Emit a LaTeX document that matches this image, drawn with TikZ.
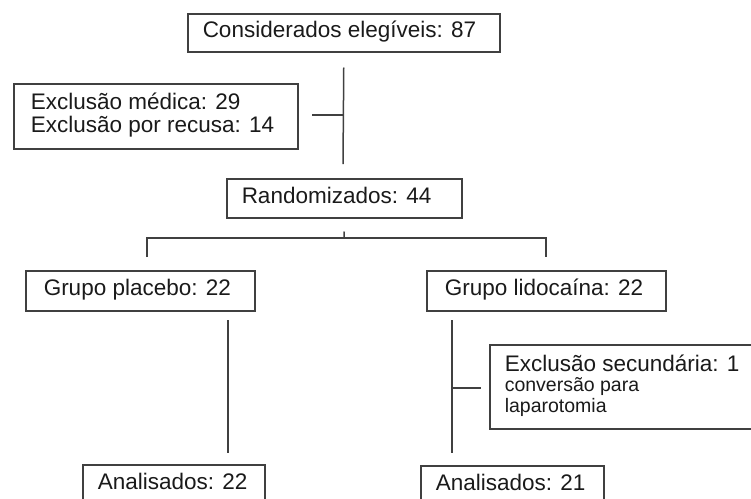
\documentclass[tikz,border=0pt]{standalone}
\usepackage{fontspec}
\setmainfont{Liberation Sans}
\usetikzlibrary{calc}
\definecolor{linec}{HTML}{404040}
\definecolor{textc}{HTML}{1A1A1A}
\newcommand{\bxt}[2]{\makebox[#1][l]{\begin{tabular}{@{}l@{}}#2\end{tabular}}}
\begin{document}
\begin{tikzpicture}[x=1pt,y=-1pt,
  box/.style={draw=linec, line width=1.5pt, anchor=north west, inner xsep=15pt, inner ysep=0pt,
    text=textc, font=\fontsize{22.5}{21.5}\selectfont},
  conn/.style={draw=linec, line width=1.5pt}]
\useasboundingbox (0,0) rectangle (751,498);
\clip (0,0) rectangle (751,498);
\node[box, minimum height=38pt] (top) at (187,13) {\bxt{282pt}{Considerados elegíveis: 87}};
\node[box, inner xsep=17pt, minimum height=65pt] (excl) at (13,83) {\bxt{250pt}{Exclusão médica: 29\\Exclusão por recusa: 14}};
\node[box, minimum height=39pt] (rand) at (226,178) {\bxt{205pt}{Randomizados: 44}};
\node[box, inner xsep=18pt, minimum height=40pt] (plac) at (25,270) {\bxt{193pt}{Grupo placebo: 22}};
\node[box, inner xsep=18pt, minimum height=40pt] (lido) at (426,270) {\bxt{203pt}{Grupo lidocaína: 22}};
\node[box, minimum height=84pt, font=\fontsize{22.5}{20.5}\selectfont] (excl2) at (489,344) {\bxt{250pt}{Exclusão secundária: 1\\{\fontsize{19.5}{20.5}\selectfont conversão para}\\{\fontsize{19.5}{20.5}\selectfont laparotomia}}};
\node[box, minimum height=40pt] (anal1) at (82,464) {\bxt{152pt}{Analisados: 22}};
\node[box, minimum height=40pt] (anal2) at (420,465) {\bxt{153pt}{Analisados: 21}};
% connectors
\coordinate (v1a) at ($(top.south)+(0,15)$);
\coordinate (v1b) at (343,164);
\coordinate (s1a) at (312,115);
\coordinate (s1b) at (343,115);
\draw[conn] (v1a) -- (v1b);
\draw[conn] (s1a) -- (s1b);
\coordinate (tk) at ($(rand.south)+(0,13)$);
\coordinate (hm) at (344,238);
\coordinate (hl) at (147,238);
\coordinate (hr) at (546,238);
\coordinate (dl) at (147,257);
\coordinate (dr) at (546,257);
\draw[conn] (tk) -- (hm);
\draw[conn] (dl) -- (hl) -- (hr) -- (dr);
\coordinate (pa) at (228,320);
\coordinate (pb) at (228,453);
\draw[conn] (pa) -- (pb);
\coordinate (la) at (452,320);
\coordinate (lb) at (452,453);
\coordinate (ls) at (452,388);
\coordinate (le) at (481,388);
\draw[conn] (la) -- (lb);
\draw[conn] (ls) -- (le);
\end{tikzpicture}
\end{document}
